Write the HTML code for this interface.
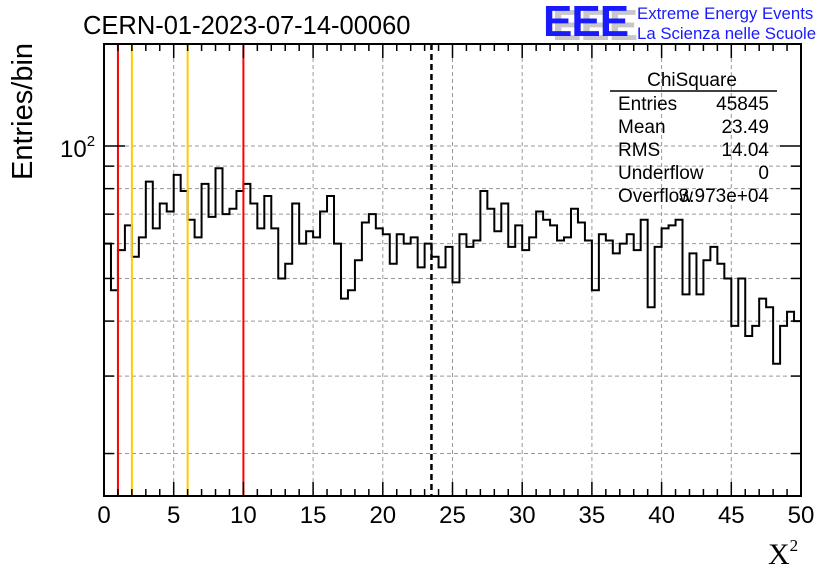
<!DOCTYPE html>
<html><head><meta charset="utf-8">
<style>
html,body{margin:0;padding:0;background:#fff;}
svg{display:block;font-family:"Liberation Sans",sans-serif;}
</style></head>
<body>
<svg id="chart" width="836" height="572" viewBox="0 0 836 572" xmlns="http://www.w3.org/2000/svg">
  <rect x="0" y="0" width="836" height="572" fill="#fff"/>
  <text x="83" y="34" font-size="25.5" fill="#000">CERN-01-2023-07-14-00060</text>
  <g>
    <text x="552" y="40" font-size="44" font-weight="bold" fill="#c8c8c8" letter-spacing="-1">EEE</text>
    <text x="543" y="36" font-size="44" font-weight="bold" fill="#1a1aff" letter-spacing="-1">EEE</text>
    <text x="637" y="19" font-size="16.8" fill="#1a1aff">Extreme Energy Events</text>
    <text x="637" y="39" font-size="16.8" fill="#1a1aff">La Scienza nelle Scuole</text>
  </g>
  <g id="grid"></g>
  <g id="marks"></g>
  <g id="axes"></g>
  <text transform="translate(32,180) rotate(-90)" font-size="29" fill="#000">Entries/bin</text>
  <text x="768" y="564" font-size="30" font-family="Liberation Serif, serif" fill="#000">X<tspan font-size="17" dy="-13">2</tspan></text>
  <g font-size="19" fill="#000">
    <text x="692" y="86" text-anchor="middle">ChiSquare</text>
    <line x1="610" y1="91" x2="777" y2="91" stroke="#000" stroke-width="1.5"/>
    <text x="618" y="110">Entries</text>
    <text x="769" y="110" text-anchor="end">45845</text>
    <text x="618" y="133">Mean</text>
    <text x="769" y="133" text-anchor="end">23.49</text>
    <text x="618" y="156">RMS</text>
    <text x="769" y="156" text-anchor="end">14.04</text>
    <text x="618" y="179">Underflow</text>
    <text x="769" y="179" text-anchor="end">0</text>
    <text x="618" y="202">Overflow</text>
    <text x="769" y="202" text-anchor="end">3.973e+04</text>
  </g>
</svg>
<script>
const binWidth = 0.5;
const counts = [60,47,58,66,56,62,83,65,74,71,86,79,68,62,82,69,89,70,72,79,82,74,65,77,65,50,54,74,60,64,62,71,77,60,45,47,55,67,70,65,63,54,63,60,62,53,60,56,53,59,49,63,59,61,79,72,64,74,59,66,58,62,71,68,66,61,62,72,67,61,47,63,61,57,60,63,58,68,43,59,65,66,68,46,57,46,55,59,54,50,39,50,37,39,45,43,32,39,42,40];
const xTickLabels = ["0","5","10","15","20","25","30","35","40","45","50"];
const xTickValues = [0,5,10,15,20,25,30,35,40,45,50];
const yGridValues = [20,30,40,50,60,70,80,90,100];
const redLines = [1,10];
const yellowLines = [2,6];
const meanValue = 23.49;

const NS = "http://www.w3.org/2000/svg";
const X0 = 104, X1 = 801, Y0 = 44, Y1 = 496;
const xMin = 0, xMax = 50;
function xs(v){ return X0 + (v - xMin) / (xMax - xMin) * (X1 - X0); }
function ys(v){ return 146 - 440 * Math.log10(v / 100); }
function mk(tag, attrs, parent){
  const e = document.createElementNS(NS, tag);
  for (const k in attrs) e.setAttribute(k, attrs[k]);
  parent.appendChild(e);
  return e;
}
const grid = document.getElementById('grid');
const marks = document.getElementById('marks');
const axes = document.getElementById('axes');

xTickValues.forEach(v => {
  if (v === 0 || v === 50) return;
  const l = mk('line', {x1: xs(v), x2: xs(v), y1: Y0, y2: Y1, stroke: '#999', 'stroke-width': 1, 'stroke-dasharray': '4,3'}, grid);
  
  
});
yGridValues.forEach(v => {
  const l = mk('line', {x1: X0, x2: X1, y1: ys(v), y2: ys(v), stroke: '#999', 'stroke-width': 1, 'stroke-dasharray': '4,3'}, grid);
  
  
});

let d = '';
counts.forEach((c, i) => {
  const xa = xs(i * binWidth), xb = xs((i + 1) * binWidth), y = ys(c);
  d += (i === 0 ? 'M' : 'L') + xa + ',' + y + 'L' + xb + ',' + y;
});
const p = mk('path', {d: d, fill: 'none', stroke: '#000', 'stroke-width': 2}, marks);



redLines.forEach(v => {
  const l = mk('line', {x1: xs(v), x2: xs(v), y1: Y0, y2: Y1, stroke: '#ff0000', 'stroke-width': 2}, marks);
  
  
});
yellowLines.forEach(v => {
  const l = mk('line', {x1: xs(v), x2: xs(v), y1: Y0, y2: Y1, stroke: '#ffcc00', 'stroke-width': 2}, marks);
  
  
});
const ml = mk('line', {x1: xs(meanValue), x2: xs(meanValue), y1: Y0, y2: Y1, stroke: '#000', 'stroke-width': 2.5, 'stroke-dasharray': '6,4'}, marks);



const fr = mk('rect', {x: X0, y: Y0, width: X1 - X0, height: Y1 - Y0, fill: 'none', stroke: '#000', 'stroke-width': 2}, axes);



for (let v = 0; v <= 50; v++) {
  const len = (v % 5 === 0) ? 14 : 7;
  const t = mk('line', {x1: xs(v), x2: xs(v), y1: Y1, y2: Y1 - len, stroke: '#000', 'stroke-width': 1.5}, axes);
  
  
  const u = mk('line', {x1: xs(v), x2: xs(v), y1: Y0, y2: Y0 + len, stroke: '#000', 'stroke-width': 1.5}, axes);
  
  
}
xTickValues.forEach((v, i) => {
  const t = mk('text', {x: xs(v), y: 523, 'font-size': 24, 'text-anchor': 'middle', fill: '#000'}, axes);
  t.textContent = xTickLabels[i];
  
  
});
yGridValues.forEach(v => {
  const len = v === 100 ? 21 : 10;
  const a = mk('line', {x1: X0, x2: X0 + len, y1: ys(v), y2: ys(v), stroke: '#000', 'stroke-width': 1.5}, axes);
  
  
  const b = mk('line', {x1: X1, x2: X1 - len, y1: ys(v), y2: ys(v), stroke: '#000', 'stroke-width': 1.5}, axes);
  
  
});
const yl = mk('text', {x: 60, y: 157, 'font-size': 24, fill: '#000'}, axes);
yl.innerHTML = '10<tspan font-size="15" dy="-11">2</tspan>';


</script>
</body></html>
